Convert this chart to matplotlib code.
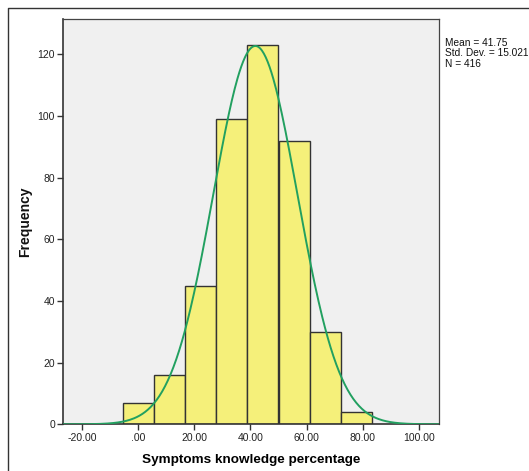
import numpy as np
import matplotlib
matplotlib.use("Agg")
import matplotlib.pyplot as plt
from matplotlib.lines import Line2D

plt.rcParams['font.family'] = ['Liberation Sans', 'DejaVu Sans']

# Data
bin_centers = [0.00, 11.11, 22.22, 33.33, 44.44, 55.56, 66.67, 77.78]
bin_width = 11.11
counts = [7, 16, 45, 99, 123, 92, 30, 4]
mean = 41.75
std = 15.021
n = 416
x_ticks = [-20, 0, 20, 40, 60, 80, 100]
x_tick_labels = ["-20.00", ".00", "20.00", "40.00", "60.00", "80.00", "100.00"]
y_ticks = [0, 20, 40, 60, 80, 100, 120]

W, H = 529, 471
fig = plt.figure(figsize=(W / 100, H / 100), dpi=100)
fig.patch.set_facecolor("white")

left, right, top, bottom = 63.3, 439.0, 19.3, 424.3
ax = fig.add_axes([left / W, 1 - bottom / H, (right - left) / W, (bottom - top) / H])
ax.set_facecolor("#f0f0f0")

ax.bar(bin_centers, counts, width=bin_width, color="#f5f07a", edgecolor="#333333",
       linewidth=1.0, zorder=2)

xs = np.linspace(-26.7, 107.2, 400)
ys = n * bin_width * np.exp(-0.5 * ((xs - mean) / std) ** 2) / (std * np.sqrt(2 * np.pi))
ax.plot(xs, ys, color="#22a060", linewidth=1.4, zorder=3)

ax.set_xlim(-26.7, 107.2)
ax.set_ylim(0, 131.4)
ax.set_xticks(x_ticks)
ax.set_xticklabels(x_tick_labels)
ax.set_yticks(y_ticks)
ax.set_yticklabels([str(v) for v in y_ticks])
ax.tick_params(axis="both", labelsize=7.5, length=4, width=1, color="#333333",
               labelcolor="#222222", pad=2)

for s in ["left", "bottom"]:
    ax.spines[s].set_color("#333333")
    ax.spines[s].set_linewidth(1.2)
for s in ["top", "right"]:
    ax.spines[s].set_color("#444444")
    ax.spines[s].set_linewidth(0.9)

ax.set_xlabel("Symptoms knowledge percentage", fontsize=9.7, fontweight="bold", labelpad=8)
fig.text(25 / W, 1 - 222 / H, "Frequency", rotation=90, fontsize=10, fontweight="bold",
         ha="center", va="center", color="#111111")

fig.text(445 / W, 1 - 38 / H, f"Mean = {mean}\nStd. Dev. = {std}\nN = {n}",
         fontsize=7.3, va="top", ha="left", color="#111111", linespacing=1.05)

# Outer frame
fig.add_artist(Line2D([8.3 / W, 8.3 / W, 1.0], [0.0, 1 - 8.3 / H, 1 - 8.3 / H],
                      transform=fig.transFigure, color="#333333", linewidth=1.0))

fig.savefig("out.png", dpi=100)
